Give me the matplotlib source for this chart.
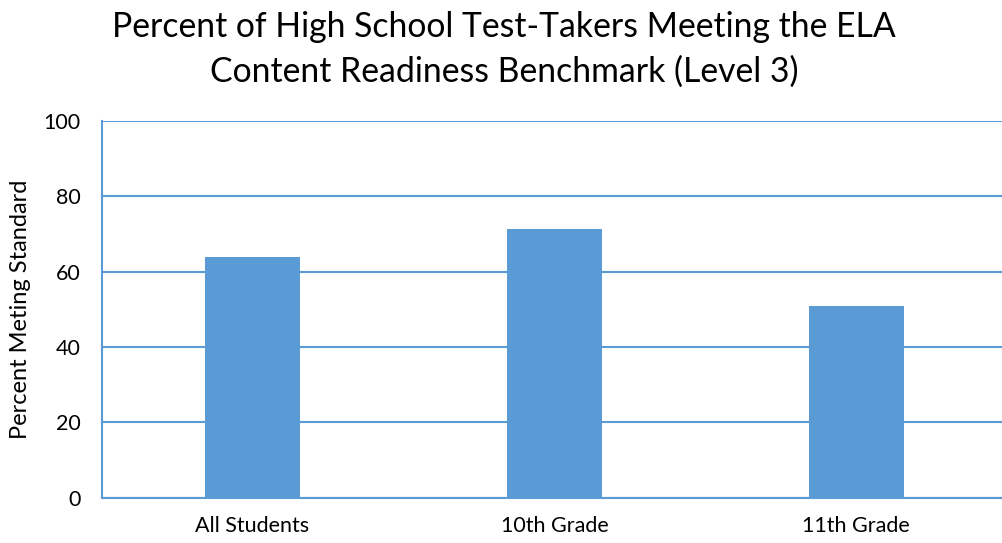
import matplotlib
matplotlib.use('agg')
from matplotlib import pyplot as plt

categories = ["All Students", "10th Grade", "11th Grade"]
percent_meeting = [63.9, 71.3, 50.9]
y_ticks = [0, 20, 40, 60, 80, 100]

title = "Percent of High School Test-Takers Meeting the ELA\nContent Readiness Benchmark (Level 3)"
blue = "#5B9BD5"

plt.rcParams['font.family'] = ['Lato', 'DejaVu Sans']

fig = plt.figure(figsize=(10.02, 5.43), dpi=100)
ax = fig.add_axes([0.1013, 0.0834, 0.904, 0.6937])

x = range(len(categories))
ax.bar(x, percent_meeting, width=0.315, color=blue, zorder=3)

ax.set_xlim(-0.5, len(categories) - 0.5)
ax.set_ylim(0, 100)
ax.set_yticks(y_ticks)
ax.set_xticks(list(x))
ax.set_xticklabels(categories, fontsize=15.5)
ax.tick_params(axis='y', labelsize=15.5, length=0, pad=15)
ax.tick_params(axis='x', length=0, pad=13)
ax.grid(axis='y', color=blue, linewidth=1.5, zorder=0)

for side in ['top', 'right']:
    ax.spines[side].set_visible(False)
for side in ['left', 'bottom']:
    ax.spines[side].set_color(blue)
    ax.spines[side].set_linewidth(1.5)

ax.set_ylabel("Percent Meting Standard", fontsize=17, labelpad=9)
fig.text(0.503, 0.98, title, ha='center', va='top', fontsize=24.3,
         linespacing=1.5)

fig.savefig("out.png", dpi=100)
